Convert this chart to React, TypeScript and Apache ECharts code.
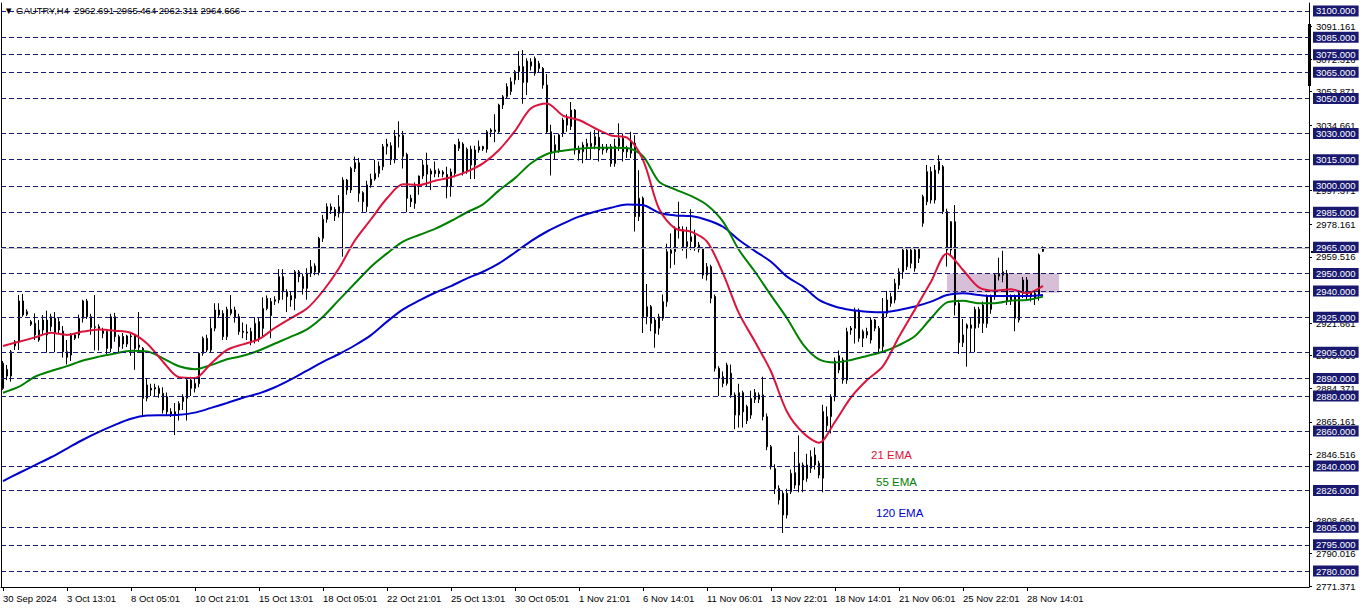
import React, { useEffect, useRef } from "react";
import * as echarts from "echarts";

const FONT = "'Liberation Sans', Arial, sans-serif";

// x axis: one slot per H4 bar, a time label every 16 bars
const xTickLabels = [
  "30 Sep 2024", "3 Oct 13:01", "8 Oct 05:01", "10 Oct 21:01", "15 Oct 13:01",
  "18 Oct 05:01", "22 Oct 21:01", "25 Oct 13:01", "30 Oct 05:01", "1 Nov 21:01",
  "6 Nov 14:01", "11 Nov 06:01", "13 Nov 22:01", "18 Nov 14:01", "21 Nov 06:01",
  "25 Nov 22:01", "28 Nov 14:01",
];
const barsPerLabel = 16;
const slotCount = 327;
const categories = Array.from({ length: slotCount }, (_, i) => String(i));

// candles: [open, high, low, close]
const ohlc: number[][] = [
  [2898.7, 2900.0, 2883.5, 2884.4], [2895.2, 2897.7, 2889.1, 2891.4], [2891.4, 2906.3, 2888.2, 2905.3], [2908.6, 2912.0, 2906.3, 2911.0],
  [2911.0, 2937.7, 2906.3, 2934.3], [2934.3, 2938.3, 2925.3, 2926.3], [2926.7, 2929.5, 2925.7, 2928.2], [2922.5, 2923.4, 2920.0, 2921.0],
  [2921.5, 2927.2, 2912.0, 2914.9], [2912.0, 2923.4, 2911.0, 2917.7], [2917.7, 2926.3, 2914.9, 2923.4], [2923.4, 2928.8, 2904.8, 2914.9],
  [2919.6, 2927.0, 2917.0, 2925.3], [2924.4, 2928.0, 2905.0, 2915.8], [2922.5, 2925.0, 2916.0, 2917.7], [2917.0, 2920.0, 2902.0, 2905.3],
  [2905.3, 2912.0, 2898.0, 2902.1], [2903.4, 2916.0, 2900.0, 2914.9], [2913.0, 2916.0, 2912.0, 2914.9], [2914.9, 2926.5, 2913.0, 2924.4],
  [2924.4, 2935.0, 2922.0, 2934.3], [2934.3, 2935.5, 2924.0, 2925.3], [2925.3, 2927.0, 2915.0, 2919.2], [2919.2, 2937.7, 2906.0, 2919.6],
  [2919.6, 2921.0, 2906.0, 2918.5], [2917.2, 2919.0, 2913.0, 2915.8], [2916.8, 2918.0, 2904.0, 2907.2], [2907.2, 2927.0, 2905.0, 2925.3],
  [2925.3, 2927.5, 2911.0, 2913.9], [2913.9, 2915.0, 2905.0, 2908.2], [2914.0, 2916.0, 2907.0, 2909.7], [2909.7, 2915.0, 2908.0, 2914.3],
  [2914.3, 2916.0, 2903.0, 2913.9], [2914.3, 2915.0, 2895.0, 2907.2], [2909.1, 2928.0, 2906.0, 2907.9], [2907.2, 2908.0, 2868.0, 2878.7],
  [2878.7, 2890.0, 2877.0, 2886.3], [2884.4, 2887.0, 2880.0, 2883.4], [2884.8, 2887.0, 2880.0, 2884.0], [2884.4, 2886.0, 2879.0, 2881.5],
  [2881.5, 2885.0, 2870.0, 2872.0], [2879.6, 2882.0, 2869.0, 2871.0], [2871.0, 2873.0, 2868.0, 2869.7], [2871.0, 2876.0, 2857.7, 2869.1],
  [2872.0, 2877.0, 2866.0, 2875.8], [2876.8, 2881.0, 2872.0, 2879.6], [2878.7, 2890.0, 2866.0, 2889.1], [2889.1, 2891.0, 2880.0, 2884.4],
  [2884.4, 2890.0, 2882.0, 2887.2], [2887.0, 2905.0, 2885.0, 2904.4], [2904.4, 2914.0, 2903.0, 2913.0], [2906.3, 2915.0, 2905.0, 2913.0],
  [2906.3, 2924.4, 2905.0, 2918.7], [2918.7, 2933.0, 2917.0, 2929.1], [2929.1, 2933.0, 2925.0, 2926.3], [2927.2, 2929.0, 2912.0, 2913.9],
  [2913.9, 2931.0, 2912.0, 2929.5], [2927.2, 2937.7, 2926.0, 2929.5], [2929.1, 2931.0, 2922.0, 2925.3], [2925.3, 2927.0, 2915.0, 2916.8],
  [2917.0, 2922.0, 2913.0, 2916.4], [2916.6, 2921.0, 2912.0, 2916.0], [2916.8, 2919.0, 2909.0, 2911.0], [2912.0, 2925.0, 2910.0, 2921.5],
  [2922.5, 2925.0, 2911.0, 2913.0], [2918.6, 2936.4, 2914.0, 2930.0], [2930.0, 2937.5, 2929.0, 2935.8], [2934.0, 2936.0, 2913.0, 2926.0],
  [2935.0, 2937.0, 2932.0, 2934.2], [2934.9, 2952.5, 2933.0, 2948.2], [2948.2, 2952.5, 2935.0, 2939.6], [2939.6, 2941.0, 2928.0, 2936.8],
  [2937.3, 2940.0, 2931.0, 2934.9], [2935.8, 2952.0, 2929.0, 2951.0], [2951.0, 2952.0, 2945.0, 2948.2], [2948.2, 2950.0, 2938.0, 2941.5],
  [2941.5, 2953.0, 2935.0, 2950.1], [2950.1, 2957.7, 2948.0, 2953.9], [2954.3, 2955.8, 2949.0, 2951.0], [2950.5, 2971.0, 2949.0, 2970.1],
  [2970.1, 2983.5, 2968.0, 2981.0], [2981.0, 2990.1, 2979.0, 2988.2], [2986.3, 2990.0, 2984.0, 2988.2], [2986.6, 2988.0, 2980.0, 2982.9],
  [2984.4, 2994.8, 2982.0, 2988.2], [2984.7, 3005.0, 2959.6, 3003.4], [3003.4, 3004.0, 2995.0, 2997.7], [2997.7, 3011.0, 2996.0, 3010.1],
  [3010.0, 3016.8, 3008.0, 3013.3], [3013.3, 3016.0, 2991.0, 2995.8], [2996.2, 2997.0, 2985.2, 2991.0], [2988.2, 3003.0, 2985.0, 3000.6],
  [3000.6, 3007.0, 2999.0, 3004.0], [3004.0, 3015.0, 3003.0, 3007.2], [3007.2, 3014.0, 3005.0, 3011.4], [3011.0, 3024.0, 3009.0, 3022.5],
  [3022.5, 3027.0, 3018.0, 3024.0], [3023.0, 3025.0, 3012.0, 3015.0], [3015.0, 3032.0, 3013.0, 3028.6], [3029.0, 3037.0, 3022.0, 3028.4],
  [3029.0, 3031.5, 3010.0, 3017.0], [3018.0, 3019.0, 2985.0, 2993.0], [2993.0, 2995.0, 2988.0, 2991.0], [2990.0, 3002.0, 2987.0, 3000.6],
  [3000.6, 3006.0, 2995.0, 3005.7], [3005.7, 3015.0, 3004.0, 3012.0], [3012.0, 3019.0, 3000.0, 3006.8], [3008.6, 3010.0, 2997.7, 3006.8],
  [3007.0, 3014.0, 3005.0, 3009.0], [3008.6, 3010.0, 3005.0, 3007.2], [3008.0, 3009.0, 3005.0, 3006.8], [3006.6, 3011.0, 2993.0, 2999.6],
  [2999.6, 3010.0, 2993.9, 3008.0], [3007.2, 3024.0, 3005.0, 3023.4], [3021.6, 3027.0, 3020.0, 3025.3], [3024.0, 3025.0, 3006.0, 3008.2],
  [3008.2, 3022.0, 3007.0, 3021.0], [3021.0, 3023.0, 3004.0, 3012.0], [3012.0, 3023.0, 3004.0, 3020.6], [3020.6, 3026.0, 3019.0, 3022.5],
  [3022.5, 3023.0, 3020.0, 3021.2], [3021.0, 3032.0, 3019.0, 3031.0], [3031.0, 3033.0, 3028.0, 3032.0], [3032.0, 3041.0, 3025.0, 3031.2],
  [3031.0, 3047.0, 3030.0, 3046.3], [3046.3, 3052.0, 3044.0, 3051.0], [3051.0, 3058.7, 3050.0, 3056.8], [3054.0, 3062.0, 3052.0, 3059.6],
  [3060.6, 3066.3, 3058.0, 3065.3], [3065.3, 3077.0, 3060.6, 3068.5], [3068.2, 3077.7, 3047.0, 3059.2], [3059.2, 3073.0, 3052.0, 3071.4],
  [3068.5, 3073.0, 3066.0, 3071.0], [3064.4, 3074.0, 3063.0, 3072.9], [3070.0, 3071.5, 3065.0, 3067.2], [3067.2, 3068.0, 3055.6, 3057.7],
  [3057.7, 3064.0, 3030.0, 3031.0], [3031.0, 3035.0, 3006.0, 3018.7], [3019.6, 3029.0, 3015.0, 3023.6], [3019.6, 3030.0, 3019.0, 3029.2],
  [3030.0, 3039.0, 3028.0, 3037.7], [3038.7, 3041.0, 3031.0, 3034.8], [3034.0, 3048.0, 3032.0, 3043.4], [3043.4, 3044.0, 3018.0, 3020.6],
  [3020.6, 3023.0, 3014.5, 3018.7], [3019.6, 3025.0, 3013.0, 3023.4], [3022.5, 3027.0, 3015.0, 3024.4], [3022.5, 3031.0, 3015.0, 3024.4],
  [3023.4, 3032.0, 3021.0, 3028.2], [3027.8, 3032.0, 3014.0, 3020.6], [3022.1, 3024.0, 3018.0, 3020.6], [3020.6, 3024.0, 3019.0, 3022.1],
  [3022.5, 3024.0, 3011.0, 3012.9], [3012.9, 3027.0, 3011.0, 3022.8], [3022.8, 3035.8, 3020.0, 3027.2], [3027.2, 3030.0, 3014.0, 3019.6],
  [3021.5, 3023.0, 3016.0, 3019.6], [3018.7, 3031.0, 3016.0, 3025.3], [3024.4, 3029.0, 2974.0, 2982.5], [2982.5, 3009.0, 2980.0, 2993.0],
  [2993.0, 2994.0, 2916.0, 2925.3], [2925.3, 2944.0, 2921.0, 2931.0], [2931.0, 2932.0, 2917.0, 2921.5], [2923.4, 2925.0, 2907.6, 2915.8],
  [2918.7, 2927.0, 2915.0, 2925.3], [2924.4, 2938.0, 2923.0, 2933.9], [2933.9, 2967.0, 2931.0, 2962.5], [2961.5, 2972.9, 2953.0, 2963.4],
  [2962.5, 2977.0, 2955.0, 2975.8], [2975.8, 2991.0, 2970.0, 2976.5], [2974.9, 2977.0, 2963.0, 2965.3], [2965.3, 2976.7, 2958.6, 2968.2],
  [2968.2, 2986.7, 2963.4, 2971.0], [2971.9, 2975.0, 2963.0, 2965.3], [2966.3, 2968.0, 2962.0, 2963.8], [2964.4, 2965.0, 2947.0, 2949.1],
  [2949.1, 2956.0, 2946.0, 2953.9], [2953.9, 2955.0, 2933.0, 2935.8], [2936.8, 2938.0, 2894.0, 2895.8], [2895.8, 2897.0, 2880.0, 2890.1],
  [2891.0, 2894.0, 2885.0, 2887.2], [2887.2, 2899.0, 2886.0, 2897.7], [2893.0, 2898.0, 2879.0, 2880.6], [2880.6, 2882.0, 2861.0, 2869.1],
  [2869.1, 2887.0, 2862.0, 2881.9], [2881.9, 2883.0, 2862.0, 2871.0], [2873.9, 2875.0, 2864.0, 2865.9], [2869.1, 2883.0, 2867.0, 2878.6],
  [2881.9, 2884.0, 2876.0, 2878.1], [2878.1, 2882.0, 2876.0, 2880.6], [2880.6, 2891.0, 2866.0, 2868.2], [2868.2, 2870.0, 2849.0, 2851.0],
  [2851.0, 2852.0, 2838.0, 2839.6], [2838.5, 2841.0, 2824.0, 2827.0], [2827.2, 2829.0, 2818.0, 2820.6], [2824.4, 2826.0, 2801.7, 2812.0],
  [2812.0, 2827.0, 2810.0, 2824.4], [2825.3, 2838.0, 2824.0, 2835.8], [2836.2, 2848.0, 2827.0, 2829.1], [2829.1, 2857.5, 2825.0, 2841.5],
  [2840.6, 2842.0, 2825.0, 2832.0], [2832.9, 2847.0, 2831.0, 2840.6], [2838.7, 2849.0, 2836.0, 2845.3], [2840.6, 2850.6, 2838.0, 2846.3],
  [2841.5, 2843.0, 2833.0, 2834.9], [2833.0, 2875.0, 2825.0, 2871.1], [2863.0, 2874.0, 2860.0, 2868.2], [2868.2, 2881.0, 2858.6, 2879.6],
  [2879.6, 2902.0, 2877.0, 2900.0], [2903.0, 2906.0, 2893.0, 2894.9], [2900.6, 2902.0, 2887.0, 2889.1], [2889.1, 2919.0, 2887.0, 2916.8],
  [2918.7, 2920.0, 2915.0, 2917.7], [2918.7, 2930.5, 2910.0, 2929.1], [2929.1, 2930.0, 2911.0, 2913.0], [2916.8, 2918.0, 2908.0, 2913.0],
  [2916.8, 2919.0, 2913.0, 2914.9], [2912.0, 2925.0, 2910.0, 2923.4], [2923.4, 2924.0, 2917.0, 2918.7], [2918.7, 2920.0, 2905.0, 2907.2],
  [2908.2, 2936.0, 2905.0, 2927.2], [2927.2, 2940.0, 2925.0, 2934.9], [2932.9, 2939.0, 2931.0, 2936.8], [2934.9, 2947.0, 2933.0, 2944.4],
  [2943.4, 2953.0, 2941.0, 2951.0], [2951.0, 2965.0, 2947.0, 2963.4], [2963.4, 2965.0, 2952.0, 2953.9], [2955.8, 2965.0, 2953.0, 2963.4],
  [2963.4, 2965.0, 2951.0, 2953.0], [2958.6, 2965.0, 2956.0, 2963.8], [2978.7, 2995.0, 2976.7, 2993.9], [2991.0, 3012.0, 2989.0, 3008.2],
  [3008.2, 3011.0, 2990.0, 2992.0], [2992.0, 3012.0, 2990.0, 3009.1], [3009.1, 3017.5, 3007.0, 3014.0], [3011.0, 3012.0, 2984.0, 2985.4],
  [2985.4, 2987.0, 2954.0, 2963.4], [2963.4, 2980.0, 2960.0, 2979.6], [2979.6, 2989.1, 2926.0, 2932.0], [2933.0, 2935.0, 2904.0, 2910.5],
  [2910.5, 2924.0, 2908.0, 2914.9], [2918.7, 2921.5, 2896.8, 2920.6], [2920.6, 2925.0, 2905.0, 2918.7], [2918.7, 2931.0, 2905.0, 2929.5],
  [2929.5, 2931.0, 2919.0, 2921.5], [2921.5, 2934.0, 2916.0, 2932.0], [2936.8, 2938.0, 2919.0, 2921.5], [2929.5, 2938.0, 2927.0, 2936.8],
  [2936.8, 2950.0, 2935.0, 2949.1], [2948.5, 2959.0, 2946.0, 2950.0], [2949.0, 2963.0, 2945.0, 2951.0], [2950.0, 2952.0, 2932.0, 2933.9],
  [2936.8, 2938.0, 2932.0, 2934.3], [2936.8, 2938.0, 2917.0, 2924.4], [2923.4, 2940.0, 2922.0, 2938.7], [2938.7, 2948.0, 2936.0, 2946.3],
  [2946.3, 2948.0, 2935.0, 2936.8], [2938.7, 2940.0, 2934.0, 2936.8], [2938.7, 2940.0, 2932.0, 2935.8], [2937.7, 2961.5, 2934.5, 2960.6],
  [2962.691, 2965.464, 2962.311, 2964.666],
];

// moving averages, read every 4th bar (bar 0, 4, 8, ... 260)
const emaStep = 4;
const ema21 = [
  2908.6, 2911.0, 2913.5, 2916.2, 2914.9, 2916.8, 2918.0, 2917.3, 2916.0, 2910.0, 2899.6, 2890.7, 2890.3, 2898.5, 2906.3, 2909.5,
  2912.5, 2919.0, 2924.5, 2930.0, 2940.0, 2953.0, 2969.0, 2981.0, 2993.0, 3001.0, 3000.6, 3003.0, 3005.0, 3008.2, 3012.9, 3020.6,
  3031.5, 3044.4, 3047.2, 3040.2, 3037.7, 3033.0, 3028.9, 3027.6, 3014.9, 2987.0, 2975.8, 2973.9, 2968.2, 2950.1, 2927.2, 2911.0,
  2894.0, 2871.0, 2859.0, 2853.3, 2865.3, 2879.2, 2889.1, 2897.1, 2913.9, 2929.5, 2945.3, 2961.5, 2952.0, 2942.1, 2940.2, 2941.0,
  2938.7, 2942.9,
];
const ema55 = [
  2881.9, 2885.3, 2891.0, 2894.3, 2897.1, 2900.3, 2902.5, 2904.3, 2905.9, 2905.5, 2901.5, 2897.0, 2895.3, 2897.7, 2901.0, 2903.0,
  2906.0, 2910.0, 2913.9, 2918.1, 2925.3, 2934.9, 2944.4, 2953.9, 2961.5, 2968.2, 2972.0, 2975.5, 2980.0, 2985.0, 2989.5, 2997.5,
  3004.5, 3013.0, 3018.3, 3020.2, 3021.3, 3021.9, 3021.9, 3021.7, 3017.1, 3002.5, 2998.1, 2994.3, 2989.1, 2979.6, 2963.4, 2951.0,
  2937.5, 2924.4, 2909.5, 2900.9, 2899.2, 2900.6, 2902.9, 2905.3, 2909.1, 2914.3, 2924.4, 2933.5, 2934.5, 2933.0, 2933.0, 2934.5,
  2934.9, 2936.8,
];
const ema120 = [
  2831.4, 2836.0, 2840.5, 2845.0, 2850.0, 2855.0, 2859.5, 2863.5, 2867.0, 2868.8, 2869.0, 2869.3, 2870.5, 2873.2, 2876.0, 2879.0,
  2881.5, 2885.0, 2889.5, 2894.5, 2899.5, 2904.0, 2909.0, 2914.8, 2922.5, 2929.5, 2934.5, 2939.0, 2942.8, 2947.2, 2951.0, 2955.8,
  2962.0, 2968.5, 2974.0, 2978.5, 2982.5, 2985.3, 2987.6, 2989.5, 2989.1, 2984.7, 2983.2, 2982.8, 2980.6, 2976.7, 2969.1, 2962.8,
  2956.7, 2948.2, 2942.5, 2934.9, 2931.1, 2929.1, 2928.2, 2927.8, 2929.1, 2931.1, 2933.9, 2937.7, 2938.7, 2937.7, 2937.1, 2937.1,
  2937.1, 2937.7,
];

// horizontal levels drawn on the chart
const levels = [
  3100, 3085, 3075, 3065, 3050, 3030, 3015, 3000, 2985, 2965, 2950, 2940, 2925, 2905,
  2890, 2880, 2860, 2840, 2826, 2805, 2795, 2780,
];
// the price scale's own tick labels
const scaleLabels = [
  3091.161, 3072.316, 3053.871, 3034.661, 2997.371, 2978.161, 2959.516, 2921.661,
  2903.016, 2884.371, 2865.161, 2846.516, 2808.661, 2790.016, 2771.371,
];
const bidPrice = 2964.666;
const zone = { fromBar: 236, toBar: 264, top: 2950, bottom: 2939 };
const yMin = 2770.86;
const yMax = 3104.57;

const LEVEL_COLOR = "#191970";

export default function App() {
  const ref = useRef<HTMLDivElement>(null);

  useEffect(() => {
    if (!ref.current) return;
    const chart = echarts.init(ref.current, undefined, { renderer: "svg" });
    const tickInterval = (index: number) => index % barsPerLabel === 0 && index / barsPerLabel < xTickLabels.length;
    const emaData = (arr: number[]) => arr.map((v, k) => [k * emaStep, v]);
    const emaSeries = (name: string, arr: number[], color: string) => ({
      name,
      type: "line",
      data: emaData(arr),
      symbol: "none",
      smooth: 0.3,
      z: 4,
      silent: true,
      lineStyle: { color, width: 2 },
    });

    chart.setOption({
      animation: false,
      backgroundColor: "#ffffff",
      title: {
        text: "\u25BC GAUTRY,H4  2962.691 2965.464 2962.311 2964.666",
        left: 4,
        top: 5,
        padding: 0,
        textStyle: { fontSize: 9.5, fontWeight: "normal", color: "#000", fontFamily: FONT },
      },
      grid: { left: 1, right: 53, top: 3, bottom: 24 },
      xAxis: {
        type: "category",
        data: categories,
        boundaryGap: true,
        axisLine: { show: true, lineStyle: { color: "#000", width: 1 } },
        axisTick: { show: true, alignWithLabel: true, interval: tickInterval, length: 4, lineStyle: { color: "#000" } },
        axisLabel: {
          interval: tickInterval,
          formatter: (_v: string, i: number) => xTickLabels[i / barsPerLabel] ?? "",
          align: "left",
          margin: 6,
          fontSize: 9.5,
          color: "#000",
          fontFamily: FONT,
        },
        splitLine: { show: false },
      },
      yAxis: [
        {
          type: "value",
          position: "right",
          min: yMin,
          max: yMax,
          axisLine: { show: true, lineStyle: { color: "#000", width: 1 } },
          axisTick: { show: true, customValues: scaleLabels, length: 3, lineStyle: { color: "#000" } },
          axisLabel: {
            customValues: scaleLabels,
            formatter: (v: number) => v.toFixed(3),
            margin: 7,
            fontSize: 9.5,
            color: "#000",
            fontFamily: FONT,
          },
          splitLine: { show: false },
        },
        {
          type: "value",
          position: "left",
          min: yMin,
          max: yMax,
          axisLine: { show: true, lineStyle: { color: "#000", width: 1 } },
          axisTick: { show: false },
          axisLabel: { show: false },
          splitLine: { show: false },
        },
      ],
      series: [
        {
          name: "levels",
          type: "line",
          data: [],
          z: 1,
          silent: true,
          markArea: {
            silent: true,
            itemStyle: { color: "#d8bfd8" },
            data: [[{ xAxis: zone.fromBar, yAxis: zone.top }, { xAxis: zone.toBar, yAxis: zone.bottom }]],
          },
          markLine: {
            silent: true,
            symbol: ["none", "none"],
            animation: false,
            lineStyle: { color: LEVEL_COLOR, type: [5, 3], width: 1 },
            label: {
              show: true,
              position: "end",
              distance: 4,
              formatter: (p: any) => Number(p.value).toFixed(3),
              backgroundColor: LEVEL_COLOR,
              color: "#fff",
              padding: [1, 3, 0, 3],
              fontSize: 9.5,
              fontFamily: FONT,
            },
            data: [
              { yAxis: bidPrice, lineStyle: { color: "#c0c0c0", type: "solid", width: 1 }, label: { show: false } },
              ...levels.map((v) => ({ yAxis: v })),
            ],
          },
        },
        {
          name: "GAUTRY,H4",
          type: "candlestick",
          data: ohlc.map(([o, h, l, c]) => [o, c, l, h]),
          barWidth: 2,
          z: 3,
          silent: true,
          itemStyle: {
            color: "#ffffff",
            color0: "#000000",
            borderColor: "#000000",
            borderColor0: "#000000",
            borderWidth: 1,
          },
        },
        emaSeries("120 EMA", ema120, "#0000cd"),
        emaSeries("55 EMA", ema55, "#008000"),
        emaSeries("21 EMA", ema21, "#dc143c"),
      ],
      graphic: [
        { type: "text", x: 871, y: 455, silent: true, style: { text: "21 EMA", fill: "#dc143c", fontSize: 11.5, fontFamily: FONT, verticalAlign: "middle" } },
        { type: "text", x: 876, y: 482, silent: true, style: { text: "55 EMA", fill: "#008000", fontSize: 11.5, fontFamily: FONT, verticalAlign: "middle" } },
        { type: "text", x: 876, y: 513, silent: true, style: { text: "120 EMA", fill: "#0000cd", fontSize: 11.5, fontFamily: FONT, verticalAlign: "middle" } },
        { type: "rect", silent: true, shape: { x: 1308, y: 24, width: 3, height: 62 }, style: { fill: "#000" } },
        { type: "rect", silent: true, shape: { x: 1311, y: 251, width: 45, height: 2 }, style: { fill: "#000" } },
      ],
    });
    return () => chart.dispose();
  }, []);

  return (
    <div
      ref={ref}
      style={{ position: "absolute", left: 0, top: 0, width: 1362, height: 611, background: "#fff" }}
    />
  );
}
